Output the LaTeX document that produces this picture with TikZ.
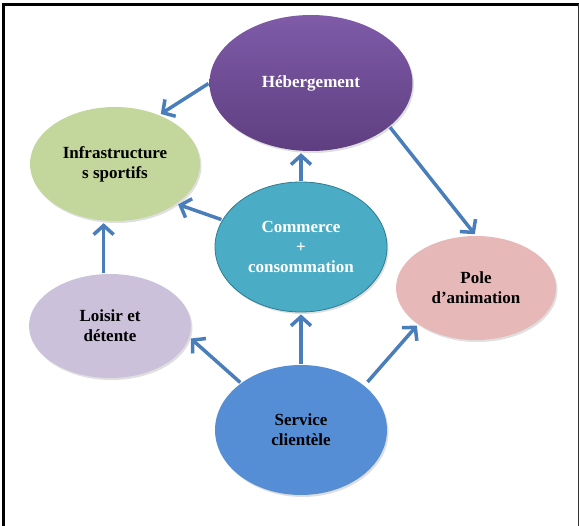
\documentclass[tikz,border=0pt]{standalone}
\usepackage{fontspec}
\setmainfont{Liberation Serif}
\usepackage{xcolor}
\usetikzlibrary{arrows.meta}
\usetikzlibrary{shapes.geometric}
\usetikzlibrary{shadows}

\definecolor{bleufleche}{HTML}{4A7EBB}
\definecolor{violethaut}{HTML}{7F5BA8}
\definecolor{violetbas}{HTML}{5E3E80}
\definecolor{vertclair}{HTML}{C3D69B}
\definecolor{turquoise}{HTML}{4BACC6}
\definecolor{turquoisefonce}{HTML}{2E7C91}
\definecolor{rosepale}{HTML}{E6B9B8}
\definecolor{lavande}{HTML}{CCC1DA}
\definecolor{bleuservice}{HTML}{558ED5}

\begin{document}
\begin{tikzpicture}[x=1pt,y=-1pt,
  bulle/.style={ellipse,inner sep=0pt,align=center,
    font=\fontsize{17}{20}\selectfont\bfseries,
    drop shadow={shadow xshift=1.5pt,shadow yshift=-2pt,opacity=.25}},
  fleche/.style={-{Straight Barb[length=9pt,width=20pt]},draw=bleufleche,line width=3.5pt,shorten >=2pt,shorten <=1pt}]
\useasboundingbox (0,0) rectangle (579,526);
\draw[line width=2.5pt] (3.7,526) -- (3.7,4.3) -- (579,4.3);
\draw[black!80,line width=1.5pt] (578.3,4.3) -- (578.3,526);

\node[bulle,top color=violethaut,bottom color=violetbas,text=white,minimum width=203pt,minimum height=136pt] (heb) at (311,83) {Hébergement};
\node[bulle,fill=vertclair,minimum width=170pt,minimum height=114pt] (infra) at (115,164) {Infrastructure\\s sportifs};
\node[bulle,fill=turquoise,draw=turquoisefonce,thick,text=white,minimum width=172pt,minimum height=130pt] (com) at (301,247) {Commerce\\+\\consommation};
\node[bulle,fill=rosepale,minimum width=160pt,minimum height=104pt] (pole) at (476,288) {Pole\\d’animation};
\node[bulle,fill=lavande,minimum width=162pt,minimum height=104pt] (lois) at (110,326) {Loisir et\\détente};
\node[bulle,fill=bleuservice,minimum width=172pt,minimum height=130pt] (serv) at (301,430) {Service\\clientèle};

\draw[fleche] (heb.180) -- (infra.48);
\draw[fleche] (heb.-29) -- (pole.north);
\draw[fleche] (com.north) -- (com.north |- heb.south);
\draw[fleche] (com.161) -- (infra.-33);
\draw[fleche] (lois.97) -- (lois.97 |- infra.south);
\draw[fleche] (serv.142) -- (lois.-8);
\draw[fleche] (serv.north) -- (com.south);
\draw[fleche,shorten <=5pt] (serv.35) -- (pole.212);
\end{tikzpicture}
\end{document}
